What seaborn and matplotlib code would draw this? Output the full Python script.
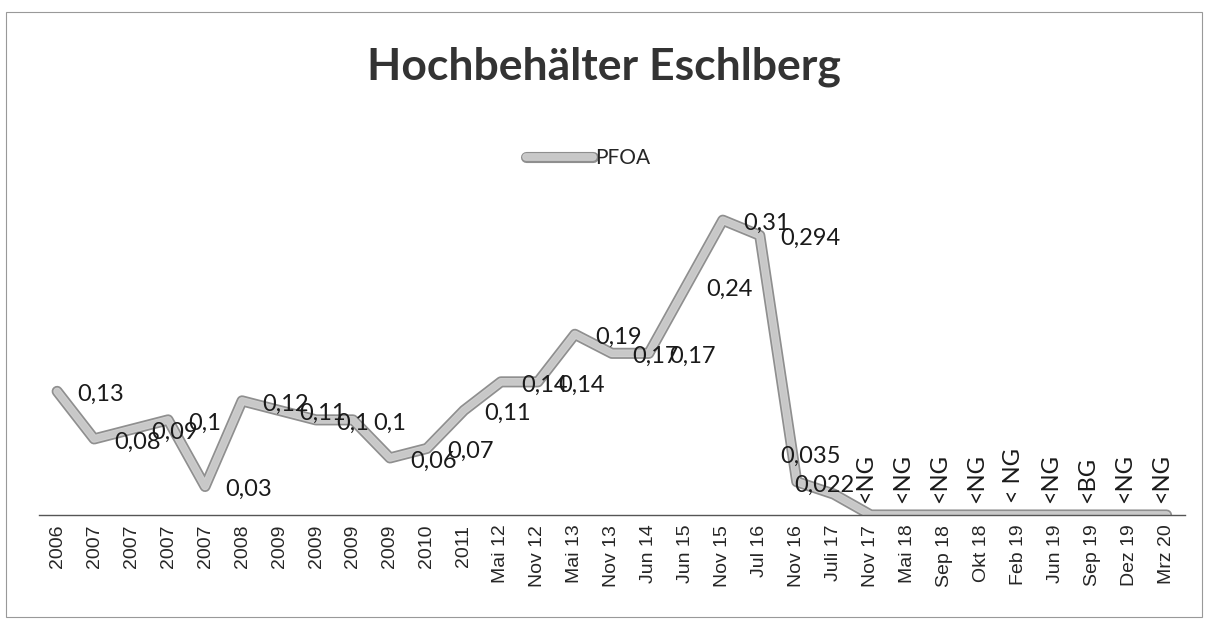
import matplotlib
matplotlib.use('Agg')
import matplotlib.pyplot as plt
import matplotlib.patheffects as pe
from matplotlib.patches import Rectangle
import seaborn as sns

# sampling dates (x categories, duplicates kept as separate points)
dates = ['2006', '2007', '2007', '2007', '2007', '2008', '2009', '2009', '2009', '2009',
         '2010', '2011', 'Mai 12', 'Nov 12', 'Mai 13', 'Nov 13', 'Jun 14', 'Jun 15',
         'Nov 15', 'Jul 16', 'Nov 16', 'Juli 17', 'Nov 17', 'Mai 18', 'Sep 18', 'Okt 18',
         'Feb 19', 'Jun 19', 'Sep 19', 'Dez 19', 'Mrz 20']
# PFOA values, below detection limit plotted as 0
pfoa = [0.13, 0.08, 0.09, 0.1, 0.03, 0.12, 0.11, 0.1, 0.1, 0.06,
        0.07, 0.11, 0.14, 0.14, 0.19, 0.17, 0.17, 0.24,
        0.31, 0.294, 0.035, 0.022, 0, 0, 0, 0,
        0, 0, 0, 0, 0]
below_limit = ['<NG', '<NG', '<NG', '<NG', '< NG', '<NG', '<BG', '<NG', '<NG']

n_num = len(pfoa) - len(below_limit)
labels = [str(v).replace('.', ',') for v in pfoa[:n_num]] + below_limit
xpos = list(range(len(dates)))

sns.set_style('white')
plt.rcParams['font.family'] = ['Lato', 'DejaVu Sans']

fig = plt.figure(figsize=(12.08, 6.21), dpi=100)
ax = fig.add_axes([0.032, 0.1707, 0.949, 0.536])

line_fx = [pe.Stroke(linewidth=8, foreground='#8f8f8f'),
           pe.Stroke(linewidth=5.5, foreground='#d0d0d0'), pe.Normal()]
sns.lineplot(x=xpos, y=pfoa, ax=ax, color='#c8c8c8', linewidth=4, sort=False,
             label='PFOA', path_effects=line_fx)

# data labels, mostly to the right of the point
special = {20: (-17, 25), 21: (-39, 9)}
for i, (v, lab) in enumerate(zip(pfoa, labels)):
    if i >= n_num:
        ax.annotate(lab, (i, v), xytext=(-5, 12), textcoords='offset pixels',
                    rotation=90, ha='center', va='bottom', fontsize=17, color='#1a1a1a')
    else:
        dx, dy = special.get(i, (20, -3))
        ax.annotate(lab, (i, v), xytext=(dx, dy), textcoords='offset pixels',
                    ha='left', va='center', fontsize=17, color='#1a1a1a')

ax.set_xlim(-0.5, len(dates) - 0.5)
ax.set_ylim(0, 0.35)
ax.set_xticks(xpos)
ax.set_xticklabels(dates, rotation=90, fontsize=14, family=['Liberation Sans', 'DejaVu Sans'])
ax.tick_params(axis='x', length=0, pad=7)
ax.set_yticks([])
for s in ['top', 'right', 'left']:
    ax.spines[s].set_visible(False)
ax.spines['bottom'].set_color('#555555')
ax.spines['bottom'].set_linewidth(1)

fig.suptitle('Hochbehälter Eschlberg', y=0.925, fontsize=32, fontweight='bold', color='#333333')
leg = ax.legend(loc='center', bbox_to_anchor=(0.487, 0.745), bbox_transform=fig.transFigure,
                frameon=False, fontsize=15, handlelength=3.2, handletextpad=0.1)
for h in leg.get_lines():
    h.set_path_effects(line_fx)

fig.patches.append(Rectangle((0.005, 0.006), 0.99, 0.975, transform=fig.transFigure,
                             fill=False, edgecolor='#999999', linewidth=0.8))

fig.savefig('out.png', dpi=100)
